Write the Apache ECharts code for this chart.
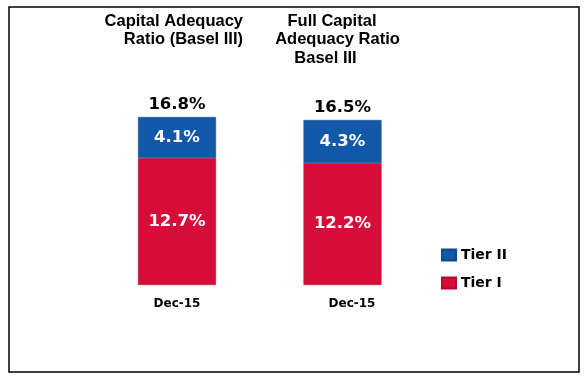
<!DOCTYPE html>
<html>
<head>
<meta charset="utf-8">
<script src="https://cdn.jsdelivr.net/npm/echarts@6/dist/echarts.min.js"></script>
<style>html,body{margin:0;padding:0;background:#fff;}#c{width:587px;height:379px;}</style>
</head>
<body>
<div id="c"></div>
<script>
var categories = ['Dec-15', 'Dec-15 '];
var tier1 = [12.7, 12.2];
var tier2 = [4.1, 4.3];
var totals = [16.8, 16.5];
var titleLines1 = ['Capital Adequacy', 'Ratio (Basel III)'];
var titleLines2 = ['Full Capital', 'Adequacy Ratio', 'Basel III'];

var chart = echarts.init(document.getElementById('c'));
var titleFont = 'bold 16.5px "Liberation Sans", Arial, sans-serif';
var graphics = [
  {type:'rect', shape:{x:9, y:7, width:570, height:365}, style:{fill:'none', stroke:'#000', lineWidth:1.5}, silent:true}
];
titleLines1.forEach(function(t,i){
  graphics.push({type:'text', x:243, y:21+i*18.5, style:{text:t, font:titleFont, fill:'#000', textAlign:'right', textVerticalAlign:'middle'}});
});
var t2x = [332, 337.5, 325.5];
titleLines2.forEach(function(t,i){
  graphics.push({type:'text', x:t2x[i], y:21+i*18.5, style:{text:t, font:titleFont, fill:'#000', textAlign:'center', textVerticalAlign:'middle'}});
});

chart.setOption({
  animation:false,
  graphic: graphics,
  legend:{
    orient:'vertical', left:436, top:243,
    data:['Tier II','Tier I'],
    icon:'rect',
    itemWidth:14, itemHeight:11, itemGap:14,
    textStyle:{fontFamily:'DejaVu Sans', fontWeight:'bold', fontSize:14, color:'#000'}
  },
  grid:{left:94.25, width:331, top:85, height:200},
  xAxis:{
    type:'category', data:categories,
    axisLine:{show:false}, axisTick:{show:false},
    axisLabel:{
      margin:13,
      formatter:function(v, idx){ return idx === 1 ? '{b|' + v.trim() + '}' : '{a|' + v + '}'; },
      rich:{
        a:{fontFamily:'DejaVu Sans', fontWeight:'bold', fontSize:12, color:'#000'},
        b:{fontFamily:'DejaVu Sans', fontWeight:'bold', fontSize:12, color:'#000', padding:[0,0,0,19]}
      }
    }
  },
  yAxis:{type:'value', min:0, max:20, show:false, splitLine:{show:false}},
  series:[
    {name:'Tier I', type:'bar', stack:'s', data:tier1, barWidth:78,
     itemStyle:{color:'#d50d38', borderColor:'#b80a2e', borderWidth:0.5},
     label:{show:true, position:'inside', formatter:function(p){return p.value.toFixed(1)+'%';},
       color:'#fff', fontFamily:'DejaVu Sans', fontWeight:'bold', fontSize:16.5}},
    {name:'Tier II', type:'bar', stack:'s', data:tier2, barWidth:78,
     itemStyle:{color:'#1158a8', borderColor:'#0e4a90', borderWidth:0.5},
     label:{show:true, position:'inside', formatter:function(p){return p.value.toFixed(1)+'%';},
       color:'#fff', fontFamily:'DejaVu Sans', fontWeight:'bold', fontSize:16.5}
    },
    {name:'Total', type:'bar', stack:'s', data:[0,0], barWidth:78,
     itemStyle:{color:'transparent'},
     label:{show:true, position:'top', distance:4, formatter:function(p){return totals[p.dataIndex].toFixed(1)+'%';},
       color:'#000', fontFamily:'DejaVu Sans', fontWeight:'bold', fontSize:16.5}}
  ]
});
</script>
</body>
</html>
